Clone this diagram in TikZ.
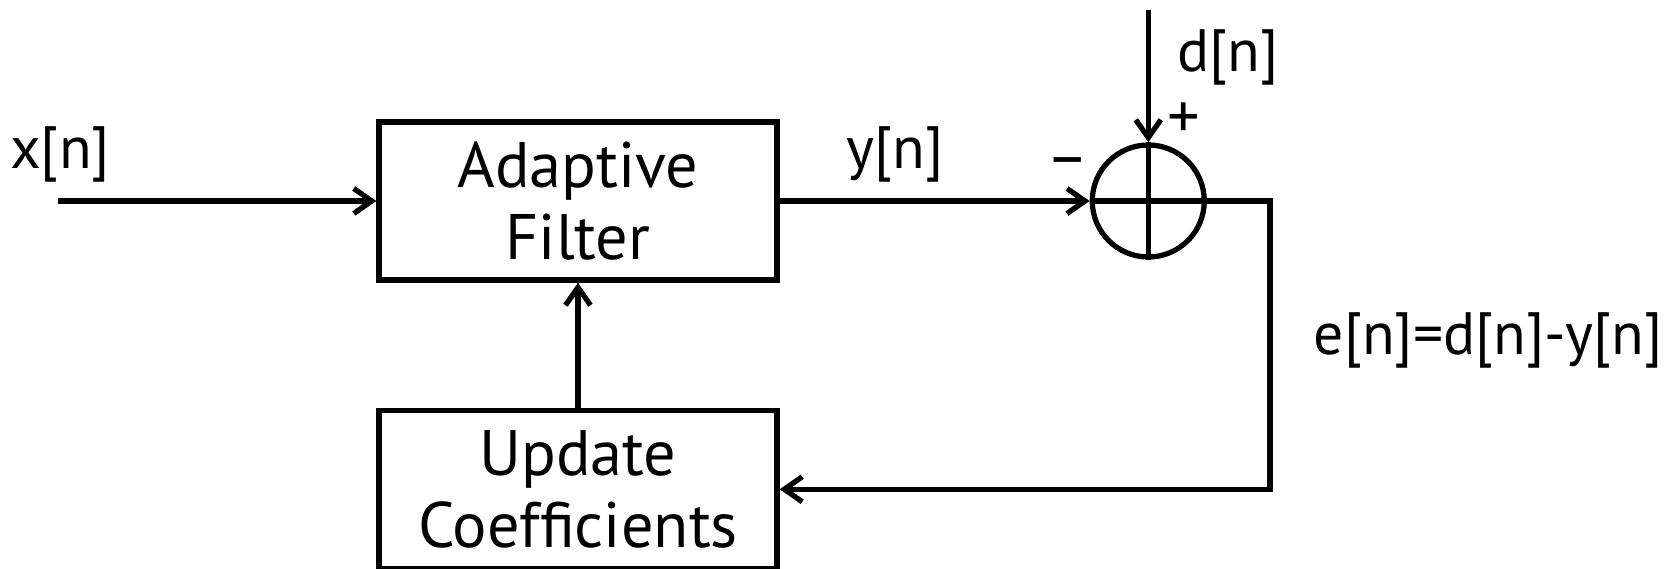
\documentclass[tikz,border=0pt]{standalone}
\usepackage{fontspec}
\setmainfont{PT Sans}
\usepackage{tikz}
\usetikzlibrary{arrows.meta,positioning}

\begin{document}
\begin{tikzpicture}[
    node distance=2.5cm and 6.2cm,
    every node/.style={font=\fontsize{36.6}{40.6}\selectfont},
    block/.style={draw, line width=3pt, minimum width=7.96cm,
                  minimum height=3.16cm, align=center, inner sep=0pt},
    sumnode/.style={draw, circle, line width=3pt, minimum size=2.24cm, inner sep=0pt},
    arr/.style={-{Straight Barb[length=3.6mm, width=5mm, line width=3pt]}, line width=3pt},
    wire/.style={line width=3pt},
    lab/.style={font=\fontsize{34}{38}\selectfont}
  ]
    \useasboundingbox (0,0) rectangle (33.46,-11.38);

    % Blocks
    \node[block] (filt) at (11.56,-4.02) {Adaptive\\Filter};
    \node[block, below=2.5cm of filt] (upd) {Update\\Coefficients};
    \node[sumnode, right=6.2cm of filt] (sum) {};
    \draw[wire] (sum.north) -- (sum.south) (sum.west) -- (sum.east);

    % Ends of the open wires
    \coordinate (xin) at (1.16,-4.02);
    \coordinate (din) at (sum.north |- 0,-0.2);
    \coordinate (turn) at (25.4,-4.02);

    % Signal flow
    \draw[arr] (xin) -- (filt);
    \draw[arr] (filt) -- (sum);
    \draw[arr] (din) -- (sum.north);
    \draw[arr] (sum.east) -- (turn) |- (upd.east);
    \draw[arr] (upd) -- (filt);

    % Labels
    \node[lab] (xlab) at (1.2,-3.08) {x[n]};
    \node[lab] (ylab) at (17.9,-3.08) {y[n]};
    \node[lab] (dlab) at (24.56,-1.14) {d[n]};
    \node (plus) at (23.68,-2.42) {+};
    \node (minus) at (21.36,-3.36) {--};
    \node[lab, anchor=west] (elab) at (26.15,-6.8) {e[n]=d[n]-y[n]};
  \end{tikzpicture}
\end{document}
